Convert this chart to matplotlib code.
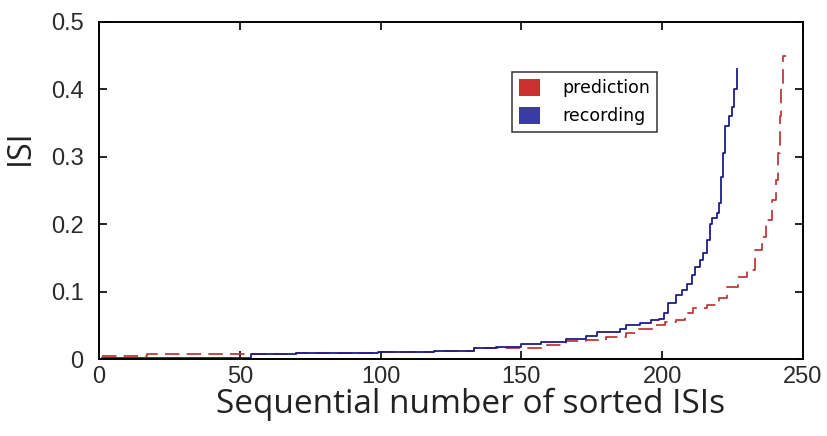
import matplotlib
matplotlib.use("Agg")
import matplotlib.pyplot as plt
from matplotlib.patches import Patch

# step levels of the sorted ISIs: index where each level starts, and its value
rec_idx = [1, 54, 70, 99, 119, 133, 141, 150, 157, 166, 173, 177, 185, 187, 192,
           196, 199, 200.5, 202, 205, 207, 208.7, 210.5, 211.6, 213.4, 214.6, 215.8,
           217, 217.6, 219.3, 220.3, 221, 221.7, 222.3, 223.8, 224.7, 225.5, 226.5]
rec_isi = [0.002, 0.0074, 0.0084, 0.010, 0.0123, 0.016, 0.018, 0.022, 0.025, 0.029,
           0.034, 0.040, 0.045, 0.050, 0.053, 0.058, 0.060, 0.068, 0.083, 0.095,
           0.102, 0.112, 0.125, 0.137, 0.147, 0.157, 0.177, 0.200, 0.209, 0.216,
           0.231, 0.270, 0.305, 0.345, 0.360, 0.374, 0.400, 0.430]

pred_idx = [1, 17, 54, 70, 99, 119, 133, 141, 159, 166, 173, 180, 187, 191, 197,
            201, 205, 208, 211, 216, 220, 223, 227, 230, 233, 235.5, 237, 239,
            240.3, 241, 241.8, 242.3, 243, 244]
pred_isi = [0.0045, 0.007, 0.0074, 0.0084, 0.010, 0.0123, 0.016, 0.017, 0.021,
            0.027, 0.028, 0.033, 0.039, 0.045, 0.050, 0.055, 0.058, 0.068, 0.075,
            0.080, 0.090, 0.107, 0.122, 0.132, 0.162, 0.181, 0.206, 0.236, 0.266,
            0.306, 0.360, 0.404, 0.449, 0.449]

xticks = [0, 50, 100, 150, 200, 250]
yticks = [0, 0.1, 0.2, 0.3, 0.4, 0.5]
labels = ["prediction", "recording"]

red = "#c03a3a"
blue = "#1e1e86"

fig = plt.figure(figsize=(8.27, 4.36), dpi=100)
ax = fig.add_axes([99 / 827, 77 / 436, 704 / 827, 337 / 436])

ax.plot(pred_idx, pred_isi, drawstyle="steps-post", color=red, lw=1.3,
        dashes=(8, 4))
ax.plot(rec_idx, rec_isi, drawstyle="steps-post", color=blue, lw=1.3)

ax.set_xlim(0, 250)
ax.set_ylim(0, 0.5)
ax.set_xticks(xticks)
ax.set_yticks(yticks)
ax.set_xticklabels([str(t) for t in xticks])
ax.set_yticklabels(["0", "0.1", "0.2", "0.3", "0.4", "0.5"])
ax.tick_params(direction="in", length=6, width=1.2, top=True, right=True,
               labelsize=17)
ax.tick_params(axis="y", pad=11)
ax.tick_params(axis="x", pad=5)
for lab in ax.get_xticklabels() + ax.get_yticklabels():
    lab.set_fontfamily("Liberation Sans")
    lab.set_color("#2a2a2a")
for sp in ax.spines.values():
    sp.set_linewidth(1.4)

ax.set_xlabel("Sequential number of sorted ISIs", fontsize=24,
              fontfamily="Open Sans", color="#222222")
ax.xaxis.set_label_coords(0.528, -0.085)
ax.set_ylabel("ISI", fontsize=23, fontfamily="Open Sans", color="#222222")
ax.yaxis.set_label_coords(-0.088, 0.63)

handles = [Patch(facecolor="#cc3030", edgecolor="none"),
           Patch(facecolor="#3a3aa8", edgecolor="none")]
leg = ax.legend(handles, labels, loc="upper left",
                bbox_to_anchor=(0.587, 0.852),
                prop={"family": "DejaVu Sans", "size": 12.5},
                handlelength=1.2, handleheight=1.15, handletextpad=1.3,
                borderpad=0.4, labelspacing=0.55, fancybox=False, frameon=True,
                borderaxespad=0)
leg.get_frame().set_edgecolor("black")
leg.get_frame().set_linewidth(1.1)

fig.savefig("out.png", dpi=100)
